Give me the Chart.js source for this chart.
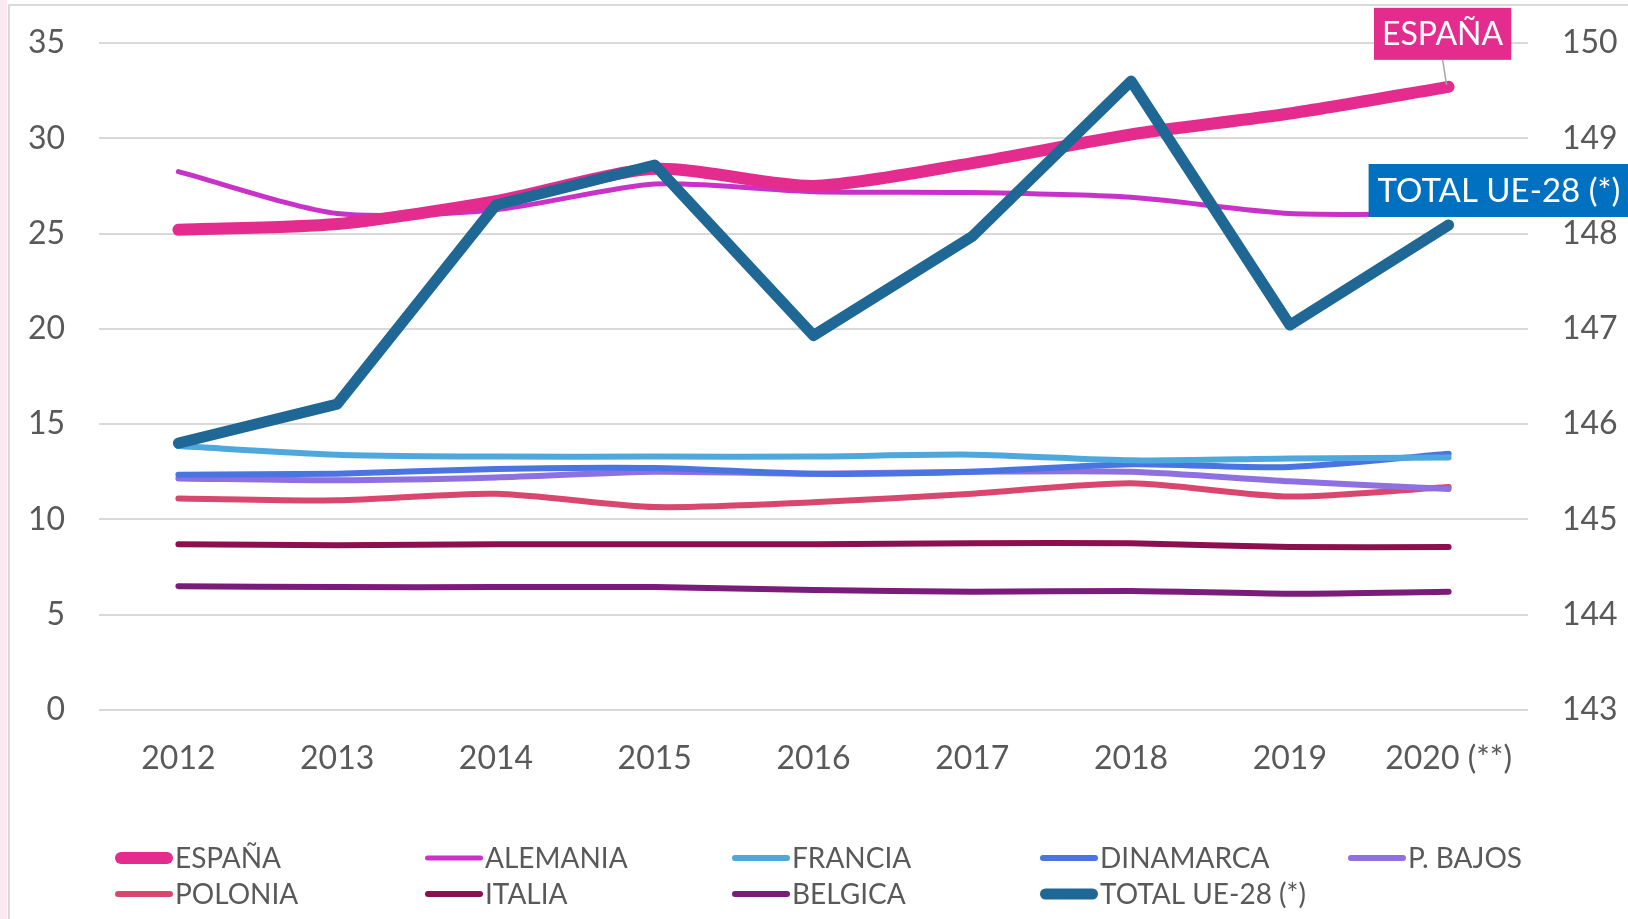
<!DOCTYPE html>
<html>
<head>
<meta charset="utf-8">
<script src="https://cdn.jsdelivr.net/npm/chart.js@4"></script>
<style>
  html, body { margin: 0; padding: 0; background: #fff; }
  #wrap { position: relative; width: 1628px; height: 919px; }
</style>
</head>
<body>
<div id="wrap"><canvas id="grafico"></canvas></div>
<script>
// datos
const years = ['2012', '2013', '2014', '2015', '2016', '2017', '2018', '2019', '2020 (**)']
const espana = [25.2, 25.5, 26.7, 28.4, 27.5, 28.7, 30.2, 31.3, 32.7]
const alemania = [28.25, 26.05, 26.25, 27.6, 27.2, 27.15, 26.9, 26.05, 26.05]
const francia = [13.85, 13.4, 13.3, 13.3, 13.3, 13.4, 13.1, 13.2, 13.25]
const dinamarca = [12.35, 12.4, 12.65, 12.7, 12.4, 12.5, 12.9, 12.75, 13.45]
const pBajos = [12.15, 12.05, 12.2, 12.5, 12.4, 12.5, 12.5, 12.0, 11.6]
const polonia = [11.1, 11.0, 11.35, 10.65, 10.9, 11.35, 11.9, 11.2, 11.7]
const italia = [8.7, 8.65, 8.7, 8.7, 8.7, 8.75, 8.75, 8.55, 8.55]
const belgica = [6.5, 6.45, 6.45, 6.45, 6.3, 6.2, 6.25, 6.1, 6.2]
const totalUE = [145.8, 146.21, 148.3, 148.72, 146.93, 147.97, 149.6, 147.04, 148.09]
const leftAxis = { min: 0, max: 35, step: 5 }
const rightAxis = { min: 143, max: 150, step: 1 }

const FONT = 'Lato'
const GRAY = '#595959'

function serie(label, data, color, width, order) {
  return {
    label: label,
    data: data,
    borderColor: color,
    backgroundColor: color,
    borderWidth: width,
    pointRadius: 0,
    tension: 0.25,
    borderCapStyle: 'round',
    borderJoinStyle: 'round',
    yAxisID: 'y',
    order: order,
  }
}

const datasets = [
  serie('ESPAÑA', espana, '#e32c8e', 12, 1),
  serie('ALEMANIA', alemania, '#c832c8', 5, 2),
  serie('FRANCIA', francia, '#4fa8dc', 6, 3),
  serie('DINAMARCA', dinamarca, '#4a74e2', 6, 4),
  serie('P. BAJOS', pBajos, '#8f70e0', 6, 5),
  serie('POLONIA', polonia, '#d9476f', 6, 6),
  serie('ITALIA', italia, '#8c1050', 6, 7),
  serie('BELGICA', belgica, '#7a1c7a', 6, 8),
]
const total = serie('TOTAL UE-28 (*)', totalUE, '#1f6895', 11, 0)
total.yAxisID = 'y1'
total.tension = 0
datasets.push(total)

// leyenda en columnas, como en el original
const leyenda = {
  id: 'leyenda',
  afterDraw(chart) {
    const ctx = chart.ctx
    const cols = [115, 425, 732, 1040, 1348]
    const rows = [858, 894]
    ctx.save()
    ctx.font = '28px ' + FONT
    ctx.textBaseline = 'middle'
    chart.data.datasets.forEach((ds, i) => {
      const x = cols[i % 5]
      const y = rows[Math.floor(i / 5)]
      ctx.strokeStyle = ds.borderColor
      ctx.lineWidth = ds.borderWidth
      ctx.lineCap = 'round'
      ctx.beginPath()
      ctx.moveTo(x + ds.borderWidth / 2, y)
      ctx.lineTo(x + 58 - ds.borderWidth / 2, y)
      ctx.stroke()
      ctx.fillStyle = GRAY
      ctx.fillText(ds.label, x + 60, y + 1)
    })
    ctx.restore()
  },
}

// etiquetas ESPAÑA / TOTAL al final de las lineas
const etiquetas = {
  id: 'etiquetas',
  afterDatasetsDraw(chart) {
    const ctx = chart.ctx
    ctx.save()
    ctx.textBaseline = 'middle'
    ctx.textAlign = 'center'

    ctx.font = '32px ' + FONT
    const pE = chart.getDatasetMeta(0).data[years.length - 1]
    const wE = ctx.measureText('ESPAÑA').width + 16
    const cxE = pE.x - 6
    const topE = pE.y - 79
    ctx.strokeStyle = '#a6a6a6'
    ctx.lineWidth = 1.5
    ctx.beginPath()
    ctx.moveTo(cxE, topE + 52)
    ctx.lineTo(pE.x - 2, pE.y - 2)
    ctx.stroke()
    ctx.fillStyle = '#e32c8e'
    ctx.fillRect(cxE - wE / 2, topE, wE, 52)
    ctx.fillStyle = '#fff'
    ctx.fillText('ESPAÑA', cxE, topE + 27)

    ctx.font = '33px ' + FONT
    const pT = chart.getDatasetMeta(8).data[years.length - 1]
    const wT = ctx.measureText('TOTAL UE-28 (*)').width + 18
    const leftT = pT.x - 80
    const topT = pT.y - 61
    ctx.fillStyle = '#0070c0'
    ctx.fillRect(leftT, topT, wT, 53)
    ctx.fillStyle = '#fff'
    ctx.textAlign = 'left'
    ctx.fillText('TOTAL UE-28 (*)', leftT + 9, topT + 27)
    ctx.restore()
  },
}

// marco gris del recuadro
const marco = {
  id: 'marco',
  beforeDraw(chart) {
    const ctx = chart.ctx
    ctx.save()
    ctx.fillStyle = '#fbe9f1'
    ctx.fillRect(0, 0, 7, chart.height)
    ctx.strokeStyle = '#d9d9d9'
    ctx.lineWidth = 2
    ctx.beginPath()
    ctx.moveTo(9, chart.height)
    ctx.lineTo(9, 5)
    ctx.lineTo(chart.width, 5)
    ctx.stroke()
    ctx.restore()
  },
}

function ajusteVertical(width) {
  return (s) => {
    s.width = width
    s.paddingTop = 0
    s.paddingBottom = 0
  }
}

const ctx = document.getElementById('grafico').getContext('2d')

const grafico = new Chart(ctx, {
  type: 'line',
  data: { labels: years, datasets: datasets },
  plugins: [marco, etiquetas, leyenda],
  options: {
    responsive: true,
    maintainAspectRatio: false,
    animation: false,
    layout: { padding: { top: 43, left: 0, right: 0, bottom: 0 } },
    plugins: {
      legend: { display: false },
      tooltip: { enabled: false },
    },
    scales: {
      x: {
        offset: true,
        grid: { display: false },
        border: { display: false },
        ticks: {
          color: GRAY,
          font: { family: FONT, size: 32 },
          padding: 21,
          maxRotation: 0,
        },
        afterFit: (s) => { s.height = 209 },
      },
      y: {
        position: 'left',
        min: leftAxis.min,
        max: leftAxis.max,
        grid: { color: '#d9d9d9', lineWidth: 2, drawTicks: false },
        border: { display: false },
        ticks: {
          stepSize: leftAxis.step,
          color: GRAY,
          font: { family: FONT, size: 32 },
          padding: 34,
        },
        afterFit: ajusteVertical(99),
      },
      y1: {
        position: 'right',
        min: rightAxis.min,
        max: rightAxis.max,
        grid: { display: false, drawTicks: false },
        border: { display: false },
        ticks: {
          stepSize: rightAxis.step,
          color: GRAY,
          font: { family: FONT, size: 32 },
          padding: 34,
        },
        afterFit: ajusteVertical(100),
      },
    },
  },
})
</script>
</body>
</html>
